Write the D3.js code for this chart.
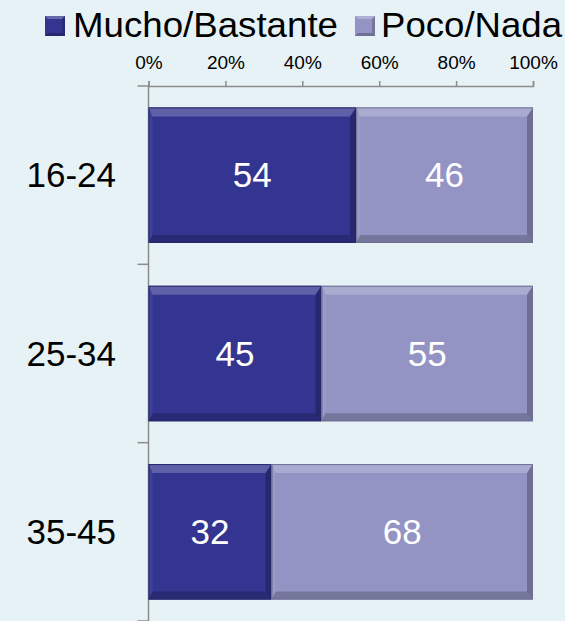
<!DOCTYPE html>
<html><head><meta charset="utf-8">
<script src="https://cdn.jsdelivr.net/npm/d3@7"></script>
<style>body{margin:0;background:#e6f2f5}svg{display:block}text{font-family:"Liberation Sans",Arial,sans-serif}</style>
</head><body>
<script>
const categories = ["16-24", "25-34", "35-45"];
const seriesNames = ["Mucho/Bastante", "Poco/Nada"];
const mucho = [54, 45, 32];
const poco = [46, 55, 68];
const tickValues = [0, 20, 40, 60, 80, 100];
const colors = ["#333590", "#9394c4"];

const W = 565, H = 621;
const svg = d3.select("body").append("svg").attr("width", W).attr("height", H);
svg.append("rect").attr("width", W).attr("height", H).attr("fill", "#e6f2f5");

const x = d3.scaleLinear().domain([0, 100]).range([148.5, 533]);
const y = d3.scaleBand().domain(categories).range([86, 621]).paddingInner(0.24).paddingOuter(0.12);

const rows = categories.map((c, i) => ({cat: c, [seriesNames[0]]: mucho[i], [seriesNames[1]]: poco[i]}));
const stacked = d3.stack().keys(seriesNames)(rows);

const axisColor = "#8c8c8c";

// top axis
const gx = svg.append("g").attr("transform", "translate(0,86)")
  .call(d3.axisTop(x).tickValues(tickValues).tickFormat(d => d + "%").tickSize(5).tickSizeOuter(5));
gx.select(".domain").attr("stroke", axisColor).attr("stroke-width", 1.5);
gx.selectAll(".tick line").attr("stroke", axisColor).attr("stroke-width", 1.5);
gx.selectAll(".tick text").attr("font-size", 19).attr("fill", "#000").attr("y", -17).attr("dy", 0)
  .style("font-family", '"Liberation Sans",Arial,sans-serif');

// left axis (line + ticks at category boundaries)
const y0 = y.range()[0], y1 = y.range()[1];
svg.append("line").attr("x1", x(0)).attr("x2", x(0)).attr("y1", y0).attr("y2", y1)
  .attr("stroke", axisColor).attr("stroke-width", 1.5);
d3.range(categories.length + 1).forEach(i => {
  const yy = y0 + i * y.step();
  svg.append("line").attr("x1", x(0) - 11).attr("x2", x(0)).attr("y1", yy).attr("y2", yy)
    .attr("stroke", axisColor).attr("stroke-width", 1.5);
});

// category labels
svg.selectAll(".cat").data(categories).join("text")
  .attr("x", 116).attr("y", d => y(d) + y.bandwidth() / 2).attr("dy", "0.35em")
  .attr("text-anchor", "end").attr("font-size", 35).attr("fill", "#000").text(d => d);

// bars with bevel
const bh = y.bandwidth();
const T = 9, B = 8, L = 4, R = 6;
stacked.forEach((s, si) => {
  const col = colors[si];
  s.forEach((d, i) => {
    const xa = x(d[0]), xb = x(d[1]);
    const ya = y(categories[i]), yb = ya + bh;
    const g = svg.append("g");
    g.append("rect").attr("x", xa).attr("y", ya).attr("width", xb - xa).attr("height", bh).attr("fill", col);
    const poly = (pts, fill, op) => g.append("polygon").attr("points", pts.map(p => p.join(",")).join(" "))
      .attr("fill", fill).attr("fill-opacity", op);
    poly([[xa, ya], [xb, ya], [xb - R, ya + T], [xa + L, ya + T]], "#ffffff", 0.22);
    poly([[xa, yb], [xb, yb], [xb - R, yb - B], [xa + L, yb - B]], "#000000", 0.2);
    poly([[xa, ya], [xa + L, ya + T], [xa + L, yb - B], [xa, yb]], "#ffffff", 0.06);
    poly([[xb, ya], [xb - R, ya + T], [xb - R, yb - B], [xb, yb]], "#000000", 0.25);
    g.append("rect").attr("x", xa + 0.5).attr("y", ya + 0.5).attr("width", xb - xa - 1).attr("height", bh - 1)
      .attr("fill", "none").attr("stroke", d3.color(col).darker(0.8)).attr("stroke-width", 1);
    g.append("text").attr("x", (xa + xb) / 2).attr("y", ya + bh / 2).attr("dy", "0.35em")
      .attr("text-anchor", "middle").attr("font-size", 35).attr("fill", "#fff")
      .text(d[1] - d[0]);
  });
});

// legend
const legendItems = [
  {name: seriesNames[0], color: colors[0], sx: 45, tx: 73, len: 265},
  {name: seriesNames[1], color: colors[1], sx: 355, tx: 381, len: 181}
];
legendItems.forEach(it => {
  const g = svg.append("g");
  g.append("rect").attr("x", it.sx).attr("y", 16).attr("width", 20).attr("height", 20).attr("fill", it.color);
  const s = 20;
  g.append("polygon").attr("points", `${it.sx},16 ${it.sx + s},16 ${it.sx + s - 3},19 ${it.sx + 3},19`).attr("fill", "#fff").attr("fill-opacity", 0.25);
  g.append("polygon").attr("points", `${it.sx},36 ${it.sx + s},36 ${it.sx + s - 3},33 ${it.sx + 3},33`).attr("fill", "#000").attr("fill-opacity", 0.25);
  g.append("polygon").attr("points", `${it.sx + s},16 ${it.sx + s},36 ${it.sx + s - 3},33 ${it.sx + s - 3},19`).attr("fill", "#000").attr("fill-opacity", 0.2);
  g.append("text").attr("x", it.tx).attr("y", 37).attr("font-size", 35).attr("fill", "#000")
    .attr("textLength", it.len).attr("lengthAdjust", "spacingAndGlyphs").text(it.name);
});
</script>
</body></html>
